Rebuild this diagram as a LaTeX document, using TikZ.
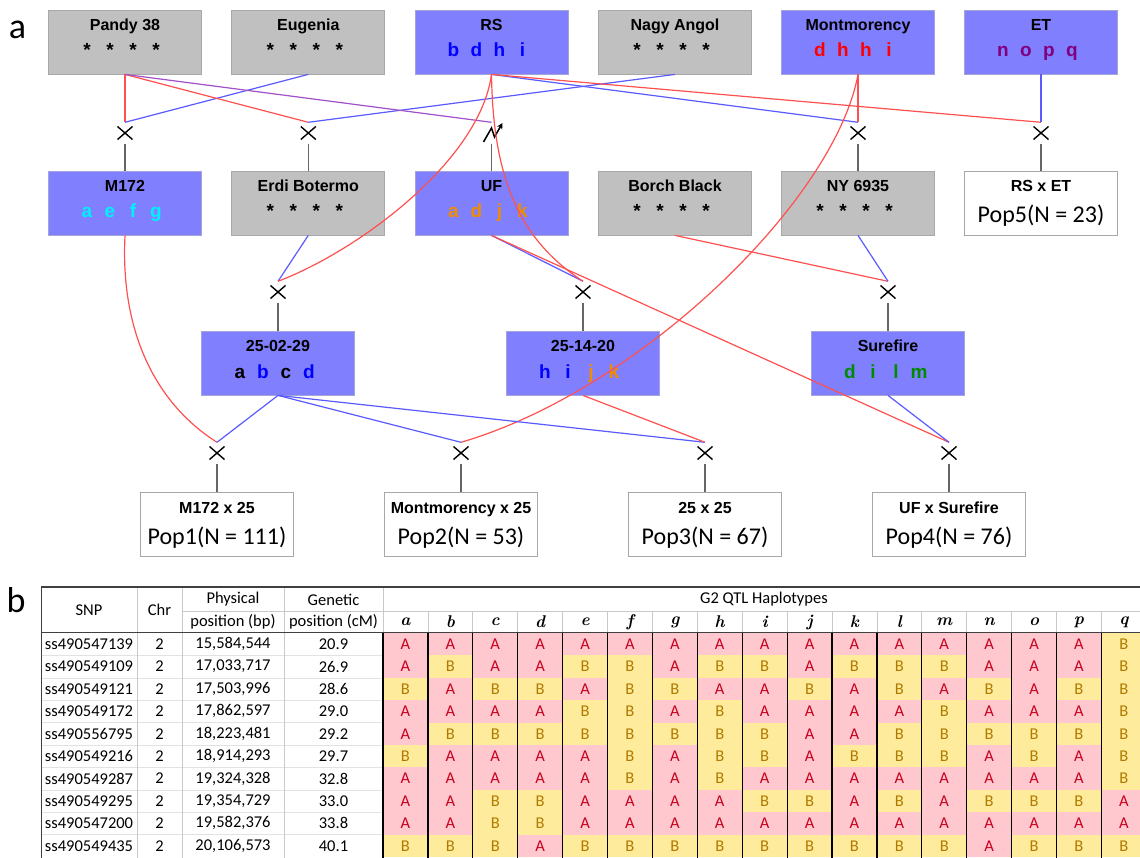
\documentclass[tikz,border=0pt]{standalone}
\usepackage{fontspec}
\newfontfamily\arial{Liberation Sans}
\newfontfamily\calib{Carlito}
\usetikzlibrary{arrows.meta}
\definecolor{gbox}{HTML}{C0C0C0}
\definecolor{gborder}{HTML}{A8A8A8}
\definecolor{bbox}{HTML}{8080FF}
\definecolor{bborder}{HTML}{A4A4D8}
\definecolor{lred}{HTML}{FF5050}
\definecolor{lblue}{HTML}{5A5AFF}
\definecolor{lpurp}{HTML}{A050C8}
\definecolor{connc}{HTML}{666666}
\definecolor{hcyan}{HTML}{00F0FF}
\definecolor{horange}{HTML}{F08C00}
\definecolor{hgreen}{HTML}{008A00}
\definecolor{hpurple}{HTML}{800080}
\definecolor{hblue}{HTML}{0000FF}
\definecolor{hred}{HTML}{FF0000}
\definecolor{cellA}{HTML}{FFC7CE}
\definecolor{cellB}{HTML}{FFEB9C}
\definecolor{txtA}{HTML}{C8001E}
\definecolor{txtB}{HTML}{B07A00}
\definecolor{tdark}{HTML}{404040}
\definecolor{tlight}{HTML}{C8C8C8}
\definecolor{tfaint}{HTML}{E2E2E2}
\newcommand{\boxtext}[6]{%
  \node[ttl] (#1t) at ([yshift=11pt]#1.center) {#2};
  \node[lett] (#1a) at ([xshift=-38pt,yshift=-15pt]#1.center) {#3};
  \node[lett] (#1b) at ([xshift=-15pt,yshift=-15pt]#1.center) {#4};
  \node[lett] (#1c) at ([xshift=8pt,yshift=-15pt]#1.center) {#5};
  \node[lett] (#1d) at ([xshift=31pt,yshift=-15pt]#1.center) {#6};}
\newcommand{\poptext}[3]{%
  \node[ttl] (#1t) at ([yshift=11pt]#1.center) {#2};
  \node[poptxt] (#1p) at ([yshift=-20pt]#1.center) {#3};}
\begin{document}
\begin{tikzpicture}[x=1pt,y=-1pt,
  box/.style={minimum width=153pt, minimum height=64pt, inner sep=0, line width=0.8pt},
  graybox/.style={box, fill=gbox, draw=gborder},
  bluebox/.style={box, fill=bbox, draw=bborder},
  whitebox/.style={box, fill=white, draw=gborder},
  ttl/.style={font=\arial\bfseries\fontsize{16}{16}\selectfont, anchor=base, inner sep=0},
  lett/.style={font=\arial\bfseries\fontsize{19}{19}\selectfont, anchor=base, inner sep=0},
  poptxt/.style={font=\calib\fontsize{24}{24}\selectfont, anchor=base, inner sep=0},
  xnode/.style={minimum width=16pt, minimum height=21pt, inner sep=0,
    path picture={\draw[line width=1.4pt] ([shift={(-7.5pt,-6.5pt)}]path picture bounding box.center) -- ([shift={(7.5pt,6.5pt)}]path picture bounding box.center);
      \draw[line width=1.4pt] ([shift={(-7.5pt,6.5pt)}]path picture bounding box.center) -- ([shift={(7.5pt,-6.5pt)}]path picture bounding box.center);}},
  mnode/.style={minimum width=16pt, minimum height=21pt, inner sep=0},
  redl/.style={draw=lred, line width=1.2pt},
  bluel/.style={draw=lblue, line width=1.2pt},
  purpl/.style={draw=lpurp, line width=1.2pt},
  conn/.style={draw=connc, line width=1.3pt},
  lefttxt/.style={font=\calib\fontsize{16.5}{16.5}\selectfont, inner sep=0},
  hdrtxt/.style={font=\calib\fontsize{16.5}{16.5}\selectfont, inner sep=0},
  hapletter/.style={font=\rmfamily\bfseries\itshape\fontsize{17}{17}\selectfont, inner sep=0},
  hapA/.style={fill=cellA, text=txtA, minimum width=44.9pt, minimum height=22.4pt, inner sep=0, font=\calib\fontsize{16.5}{16.5}\selectfont},
  hapB/.style={fill=cellB, text=txtB, minimum width=44.9pt, minimum height=22.4pt, inner sep=0, font=\calib\fontsize{16.5}{16.5}\selectfont},
  panel/.style={font=\calib\fontsize{36}{36}\selectfont, anchor=base, inner sep=0}
]
\useasboundingbox[fill=white] (0,0) rectangle (1140,858);

\node[panel] (la) at (17.5,39) {a};
\node[panel] (lb) at (16,612) {b};

% row 1
\node[graybox] (P) at (125,42) {};
\node[graybox] (E) at (308.3,42) {};
\node[bluebox] (RS) at (491.5,42) {};
\node[graybox] (NA) at (675,42) {};
\node[bluebox] (MO) at (858,42) {};
\node[bluebox] (ET) at (1041,42) {};
\boxtext{P}{Pandy 38}{*}{*}{*}{*}
\boxtext{E}{Eugenia}{*}{*}{*}{*}
\boxtext{RS}{RS}{\color{hblue}b}{\color{hblue}d}{\color{hblue}h}{\color{hblue}i}
\boxtext{NA}{Nagy Angol}{*}{*}{*}{*}
\boxtext{MO}{Montmorency}{\color{hred}d}{\color{hred}h}{\color{hred}h}{\color{hred}i}
\boxtext{ET}{ET}{\color{hpurple}n}{\color{hpurple}o}{\color{hpurple}p}{\color{hpurple}q}

% row 1 crosses
\node[xnode] (X1) at (125,133) {};
\node[xnode] (X2) at (308.3,133) {};
\node[mnode] (MU) at (491.5,133) {};
\node[xnode] (X4) at (858,133) {};
\node[xnode] (X5) at (1041,133) {};
\draw[line width=1.5pt, -{Stealth[length=6pt,width=6pt]}] ([shift={(-8pt,-9pt)}]MU.center) -- ([shift={(0pt,5pt)}]MU.center) -- ([shift={(3pt,-4pt)}]MU.center) -- ([shift={(11pt,10pt)}]MU.center);

% row 2
\node[bluebox] (M172) at (125,203) {};
\node[graybox] (EB) at (308.3,203) {};
\node[bluebox] (UF) at (491.5,203) {};
\node[graybox] (BB) at (675,203) {};
\node[graybox] (NY) at (858,203) {};
\node[whitebox] (RSET) at (1041,203) {};
\boxtext{M172}{M172}{\color{hcyan}a}{\color{hcyan}e}{\color{hcyan}f}{\color{hcyan}g}
\boxtext{EB}{Erdi Botermo}{*}{*}{*}{*}
\boxtext{UF}{UF}{\color{horange}a}{\color{horange}d}{\color{horange}j}{\color{horange}k}
\boxtext{BB}{Borch Black}{*}{*}{*}{*}
\boxtext{NY}{NY 6935}{*}{*}{*}{*}
\poptext{RSET}{RS x ET}{Pop5(N = 23)}

% row 2 crosses
\node[xnode] (X6) at (278,292) {};
\node[xnode] (X7) at (583,292) {};
\node[xnode] (X8) at (888,292) {};

% row 3
\node[bluebox] (B25) at (278,363) {};
\node[bluebox] (B14) at (583,363) {};
\node[bluebox] (SF) at (888,363) {};
\boxtext{B25}{25-02-29}{a}{\color{hblue}b}{c}{\color{hblue}d}
\boxtext{B14}{25-14-20}{\color{hblue}h}{\color{hblue}i}{\color{horange}j}{\color{horange}k}
\boxtext{SF}{Surefire}{\color{hgreen}d}{\color{hgreen}i}{\color{hgreen}l}{\color{hgreen}m}

% row 3 crosses
\node[xnode] (X9) at (217,453) {};
\node[xnode] (X10) at (461,453) {};
\node[xnode] (X11) at (705,453) {};
\node[xnode] (X12) at (949,453) {};

% row 4
\node[whitebox] (P1) at (217,524) {};
\node[whitebox] (P2) at (461,524) {};
\node[whitebox] (P3) at (705,524) {};
\node[whitebox] (P4) at (949,524) {};
\poptext{P1}{M172 x 25}{Pop1(N = 111)}
\poptext{P2}{Montmorency x 25}{Pop2(N = 53)}
\poptext{P3}{25 x 25}{Pop3(N = 67)}
\poptext{P4}{UF x Surefire}{Pop4(N = 76)}

% connectors row 1
\draw[redl] (P.south) -- (X1.north);
\draw[bluel] (E.south) -- (X1.north);
\draw[redl] (P.south) -- (X2.north);
\draw[bluel] (NA.south) -- (X2.north);
\draw[purpl] (P.south) -- (MU.north);
\draw[bluel] (RS.south) -- (X4.north);
\draw[redl] (MO.south) -- (X4.north);
\draw[redl] (RS.south) -- (X5.north);
\draw[bluel] (ET.south) -- (X5.north);
\draw[conn] (X1.south) -- (M172.north);
\draw[conn] (X2.south) -- (EB.north);
\draw[conn] (MU.south) -- (UF.north);
\draw[conn] (X4.south) -- (NY.north);
\draw[conn] (X5.south) -- (RSET.north);

% connectors row 2
\draw[bluel] (EB.south) -- (X6.north);
\draw[redl] (RS.south) .. controls (480,160) and (360,250) .. (X6.north);
\draw[bluel] (UF.south) -- (X7.north);
\draw[redl] (RS.south) .. controls (493,180) and (520,240) .. (X7.north);
\draw[redl] (BB.south) -- (X8.north);
\draw[bluel] (NY.south) -- (X8.north);
\draw[conn] (X6.south) -- (B25.north);
\draw[conn] (X7.south) -- (B14.north);
\draw[conn] (X8.south) -- (SF.north);

% connectors row 3
\draw[redl] (M172.south) .. controls (120,335) and (158,405) .. (X9.north);
\draw[bluel] (B25.south) -- (X9.north);
\draw[redl] (MO.south) .. controls (835,200) and (640,390) .. (X10.north);
\draw[bluel] (B25.south) -- (X10.north);
\draw[bluel] (B25.south) -- (X11.north);
\draw[redl] (B14.south) -- (X11.north);
\draw[redl] (UF.south) -- (X12.north);
\draw[bluel] (SF.south) -- (X12.north);
\draw[conn] (X9.south) -- (P1.north);
\draw[conn] (X10.south) -- (P2.north);
\draw[conn] (X11.south) -- (P3.north);
\draw[conn] (X12.south) -- (P4.north);

% ---------------- table ----------------
\begin{scope}
\clip (0,0) rectangle (1140,858);
\foreach \snp/\pos/\gen/\hap [count=\i from 0] in {
 ss490547139/{15,584,544}/20.9/{A,A,A,A,A,A,A,A,A,A,A,A,A,A,A,A,B},
 ss490549109/{17,033,717}/26.9/{A,B,A,A,B,B,A,B,B,A,B,B,B,A,A,A,B},
 ss490549121/{17,503,996}/28.6/{B,A,B,B,A,B,B,A,A,B,A,B,A,B,A,B,B},
 ss490549172/{17,862,597}/29.0/{A,A,A,A,B,B,A,B,A,A,A,A,B,A,A,A,B},
 ss490556795/{18,223,481}/29.2/{A,B,B,B,B,B,B,B,B,A,A,B,B,B,B,B,B},
 ss490549216/{18,914,293}/29.7/{B,A,A,A,A,B,A,B,B,A,B,B,B,A,B,A,B},
 ss490549287/{19,324,328}/32.8/{A,A,A,A,A,B,A,B,A,A,A,A,A,A,A,A,B},
 ss490549295/{19,354,729}/33.0/{A,A,B,B,A,A,A,A,B,B,A,B,A,B,B,B,A},
 ss490547200/{19,582,376}/33.8/{A,A,B,B,A,A,A,A,A,A,A,A,A,A,A,A,A},
 ss490549435/{20,106,573}/40.1/{B,B,B,A,B,B,B,B,B,B,B,B,B,A,B,B,B}}
{
  \node[lefttxt] (s\i) at (89,{644.2+22.4*\i}) {\snp};
  \node[lefttxt] (c\i) at (159.5,{644.2+22.4*\i}) {2};
  \node[lefttxt] (p\i) at (233,{644.2+22.4*\i}) {\pos};
  \node[lefttxt] (g\i) at (333.5,{644.2+22.4*\i}) {\gen};
  \foreach \c [count=\j from 0] in \hap {
    \node[hap\c] (h\i-\j) at ({405.45+44.9*\j},{644.2+22.4*\i}) {\c};
  }
}
% faint row lines in left columns
\foreach \k in {1,...,9} \draw[tfaint, line width=0.6pt] (41,{633+22.4*\k}) -- (383,{633+22.4*\k});
% left column verticals
\foreach \xx in {137,182,284} \draw[tlight, line width=0.7pt] (\xx,587) -- (\xx,858);
% header verticals for haplotype letters
\foreach \j in {0,...,17} \draw[tlight, line width=0.7pt] ({383+44.9*\j},611) -- ({383+44.9*\j},632);
\draw[tlight, line width=0.7pt] (383,587) -- (383,611);
% data verticals between haplotype columns
\foreach \j in {0,...,17} \draw[black, line width=1.2pt] ({383+44.9*\j},633) -- ({383+44.9*\j},858);
% horizontal rules
\draw[tlight, line width=0.7pt] (182,611) -- (1140,611);
\draw[tdark, line width=1.3pt] (41,587) -- (1140,587);
\draw[tdark, line width=1.6pt] (41,632.5) -- (1140,632.5);
\draw[tdark, line width=1pt] (41,587) -- (41,858);
% header texts
\node[hdrtxt] (hSNP) at (89,610) {SNP};
\node[hdrtxt] (hChr) at (159.5,610) {Chr};
\node[hdrtxt] (hPh1) at (233,599.5) {Physical};
\node[hdrtxt] (hPh2) at (233,622) {position (bp)};
\node[hdrtxt] (hGe1) at (333.5,599.5) {Genetic};
\node[hdrtxt] (hGe2) at (333.5,622) {position (cM)};
\node[hdrtxt] (hG2) at (764,599.5) {G2 QTL Haplotypes};
\foreach \L [count=\j from 0] in {a,b,c,d,e,f,g,h,i,j,k,l,m,n,o,p,q}
  \node[hapletter] (hl\j) at ({405.45+44.9*\j},622) {\L};
\end{scope}
\end{tikzpicture}
\end{document}
